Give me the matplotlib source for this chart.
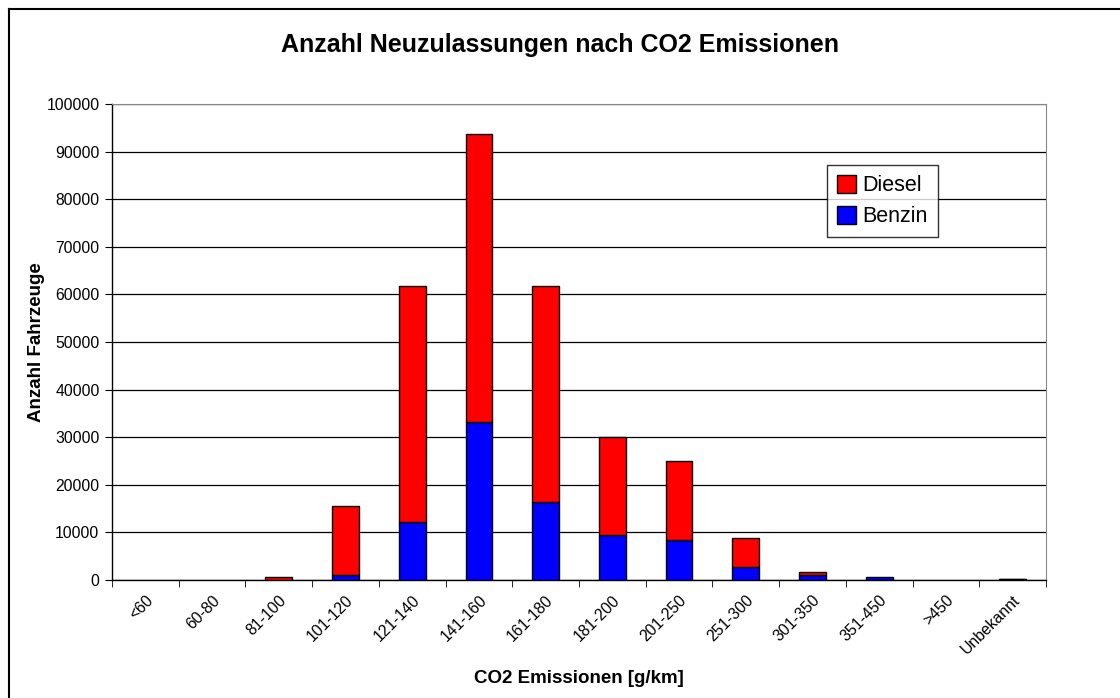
import matplotlib
matplotlib.use("Agg")
import matplotlib.pyplot as plt
from matplotlib.lines import Line2D
from matplotlib.patches import Patch
import numpy as np

categories = ["<60", "60-80", "81-100", "101-120", "121-140", "141-160", "161-180",
              "181-200", "201-250", "251-300", "301-350", "351-450", ">450", "Unbekannt"]
benzin = [0, 0, 50, 1000, 12200, 33100, 16400, 9450, 8400, 2800, 1050, 550, 0, 150]
diesel = [0, 0, 550, 14500, 49600, 60700, 45400, 20650, 16500, 5950, 550, 0, 0, 150]
yticks = list(range(0, 100001, 10000))

plt.rcParams['font.family'] = ['Liberation Sans', 'DejaVu Sans']

fig = plt.figure(figsize=(11.2, 6.98), dpi=100)
ax = fig.add_axes([112/1120, 1-580/698, (1046-112)/1120, 476/698])

x = np.arange(len(categories))
bb = ax.bar(x, benzin, width=0.4, color='#0000FF', edgecolor='black', linewidth=1, zorder=3)
bd = ax.bar(x, diesel, width=0.4, bottom=benzin, color='#FF0000', edgecolor='black', linewidth=1, zorder=3)
for rect, v in list(zip(bb, benzin)) + list(zip(bd, diesel)):
    if v == 0:
        rect.set_visible(False)

ax.set_xlim(-0.5, len(categories) - 0.5)
ax.set_ylim(0, 100000)
ax.set_yticks(yticks)
ax.set_yticklabels([str(v) for v in yticks], fontsize=11.3)
ax.yaxis.grid(True, color='black', linewidth=0.9, zorder=0)
ax.set_axisbelow(True)

ax.set_xticks(x)
ax.set_xticklabels(categories, rotation=45, ha='right', rotation_mode='anchor', fontsize=11.3)
ax.tick_params(axis='x', which='major', length=0, pad=9)
ax.set_xticks(np.arange(-0.5, len(categories), 1), minor=True)
ax.tick_params(axis='x', which='minor', length=5, direction='out', color='black')
ax.tick_params(axis='y', length=5, direction='out', color='black', pad=4)

for s in ['left', 'bottom']:
    ax.spines[s].set_color('black')
    ax.spines[s].set_linewidth(1)
ax.spines['right'].set_color('#888888')
ax.spines['top'].set_color('#888888')

ax.set_xlabel('CO2 Emissionen [g/km]', fontsize=13.5, fontweight='bold', labelpad=9)
ax.set_ylabel('Anzahl Fahrzeuge', fontsize=13.5, fontweight='bold', labelpad=1)
fig.text(0.5, 1-45/698, 'Anzahl Neuzulassungen nach CO2 Emissionen', ha='center', va='center',
         fontsize=18, fontweight='bold')

handles = [Patch(facecolor='#FF0000', edgecolor='black', linewidth=1, label='Diesel'),
           Patch(facecolor='#0000FF', edgecolor='black', linewidth=1, label='Benzin')]
leg = ax.legend(handles=handles, loc='upper left',
                bbox_to_anchor=((827-112)/934, (580-165)/476), borderaxespad=0,
                fontsize=15.5, frameon=True, fancybox=False, edgecolor='black',
                handlelength=0.9, handleheight=0.9, handletextpad=0.3, labelspacing=0.45,
                borderpad=0.45)
leg.get_frame().set_linewidth(1)

# outer chart border
fig.add_artist(Line2D([8.5/1120, 8.5/1120], [0, 1-9/698], color='black', linewidth=1.5, transform=fig.transFigure))
fig.add_artist(Line2D([8.5/1120, 1], [1-9/698, 1-9/698], color='black', linewidth=1.5, transform=fig.transFigure))

fig.savefig('out.png', dpi=100)
